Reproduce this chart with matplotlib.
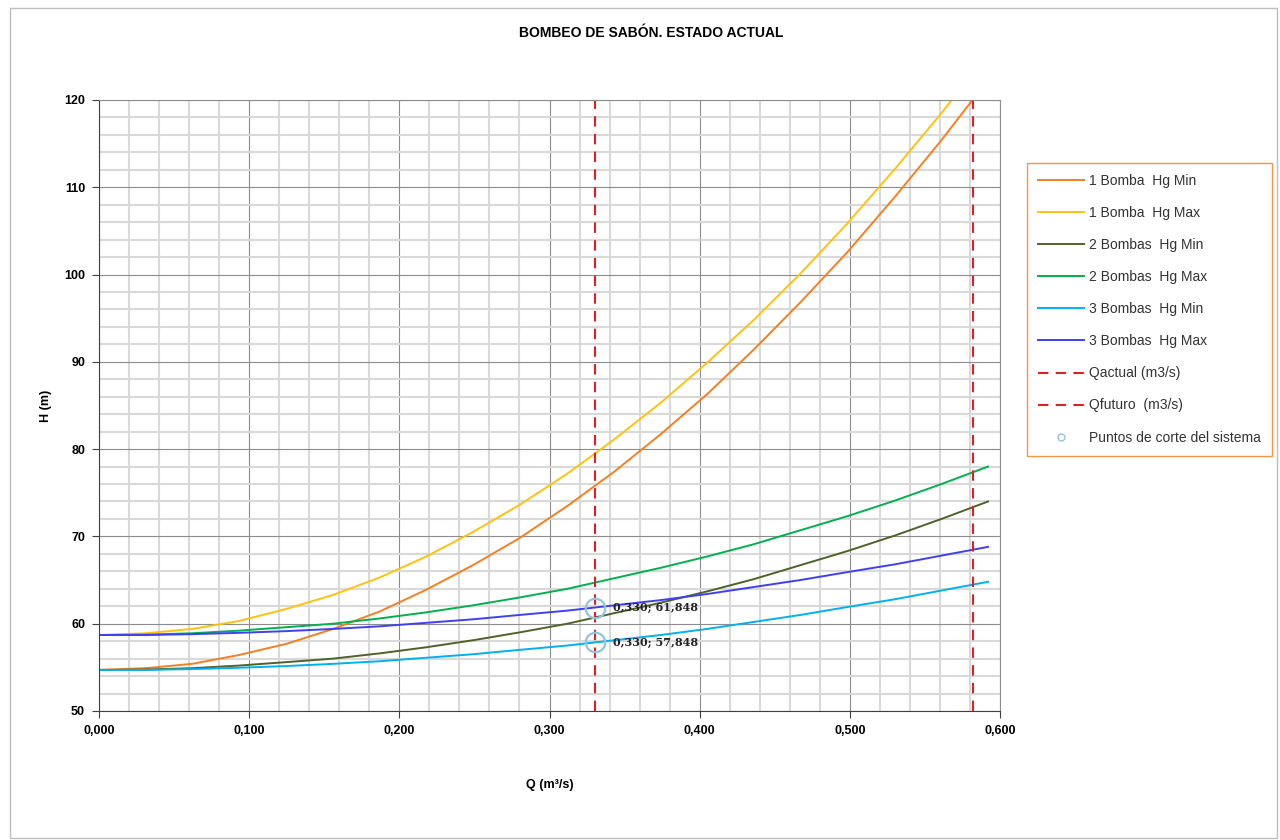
import matplotlib
matplotlib.use("Agg")
import matplotlib.pyplot as plt
from matplotlib.patches import Rectangle
from matplotlib.ticker import MultipleLocator, FuncFormatter

plt.rcParams["font.family"] = ["Liberation Sans", "DejaVu Sans"]

# caudal (m3/s) sampled along the curves
q = [0.000, 0.031, 0.062, 0.093, 0.125, 0.156, 0.187, 0.218, 0.249, 0.280,
     0.312, 0.343, 0.374, 0.405, 0.436, 0.467, 0.498, 0.530, 0.561, 0.592]

h_1b_min = [54.7, 54.9, 55.4, 56.4, 57.7, 59.4, 61.4, 63.9, 66.7, 69.8,
            73.5, 77.4, 81.7, 86.3, 91.4, 96.8, 102.5, 108.9, 115.4, 122.3]
h_1b_max = [58.7, 58.9, 59.4, 60.3, 61.7, 63.3, 65.3, 67.7, 70.5, 73.6,
            77.2, 81.1, 85.3, 89.9, 94.8, 100.1, 105.8, 112.1, 118.5, 125.3]
h_2b_min = [54.7, 54.75, 54.9, 55.2, 55.6, 56.0, 56.6, 57.3, 58.1, 59.0,
            60.0, 61.2, 62.4, 63.7, 65.1, 66.7, 68.3, 70.1, 72.0, 74.0]
h_2b_max = [58.7, 58.75, 58.9, 59.2, 59.6, 60.0, 60.6, 61.3, 62.1, 63.0,
            64.0, 65.2, 66.4, 67.7, 69.1, 70.7, 72.3, 74.1, 76.0, 78.0]
h_3b_min = [54.7, 54.7, 54.8, 54.95, 55.15, 55.4, 55.7, 56.1, 56.5, 57.0,
            57.5, 58.1, 58.7, 59.4, 60.2, 61.0, 61.9, 62.8, 63.8, 64.8]
h_3b_max = [58.7, 58.7, 58.8, 58.95, 59.15, 59.4, 59.7, 60.1, 60.5, 61.0,
            61.5, 62.1, 62.7, 63.4, 64.2, 65.0, 65.9, 66.8, 67.8, 68.8]

q_actual = 0.330
q_futuro = 0.582
cut_q = [0.330, 0.330]
cut_h = [61.848, 57.848]

series = [
    ("1 Bomba  Hg Min", h_1b_min, "#F57F21"),
    ("1 Bomba  Hg Max", h_1b_max, "#FFC20E"),
    ("2 Bombas  Hg Min", h_2b_min, "#4F6228"),
    ("2 Bombas  Hg Max", h_2b_max, "#00B050"),
    ("3 Bombas  Hg Min", h_3b_min, "#00B0F0"),
    ("3 Bombas  Hg Max", h_3b_max, "#3F3FF5"),
]

fig = plt.figure(figsize=(12.8, 8.4), dpi=100)
fig.patches.append(Rectangle((0.008, 0.002), 0.99, 0.988, transform=fig.transFigure,
                             fill=False, edgecolor="#BFBFBF", linewidth=1))
ax = fig.add_axes([0.0773, 0.1536, 0.7040, 0.7274])

for label, h, color in series:
    ax.plot(q, h, color=color, lw=1.4, label=label)

ax.axvline(q_actual, color="#E01E26", lw=1.5, ls=(0, (5, 3.5)), label="Qactual (m3/s)")
ax.axvline(q_futuro, color="#E01E26", lw=1.5, ls=(0, (5, 3.5)), label="Qfuturo  (m3/s)")
ax.plot(cut_q, cut_h, "o", mfc="none", mec="#93C5DA", ms=14, mew=1.6, ls="none")
ax.plot([], [], "o", mfc="none", mec="#93C5DA", ms=5, mew=1, ls="none",
        label="Puntos de corte del sistema")
for xq, yh in zip(cut_q, cut_h):
    ax.annotate(f"{xq:.3f}; {yh:.3f}".replace(".", ","), (xq, yh), xytext=(13, 0),
                textcoords="offset points", va="center", fontsize=8,
                fontweight="bold", family="DejaVu Serif", color="#222222")

ax.set_xlim(0, 0.6)
ax.set_ylim(50, 120)
ax.xaxis.set_major_locator(MultipleLocator(0.1))
ax.xaxis.set_minor_locator(MultipleLocator(0.02))
ax.yaxis.set_major_locator(MultipleLocator(10))
ax.yaxis.set_minor_locator(MultipleLocator(2))
ax.xaxis.set_major_formatter(FuncFormatter(lambda v, p: f"{v:.3f}".replace(".", ",")))
ax.grid(which="minor", color="#D9D9D9", lw=1.5)
ax.grid(which="major", color="#8C8C8C", lw=0.8)
ax.set_axisbelow(True)
ax.tick_params(which="minor", length=0)
ax.tick_params(which="major", direction="out", length=5, color="#404040",
               labelsize=9, pad=5)
for lab in ax.get_xticklabels() + ax.get_yticklabels():
    lab.set_fontweight("bold")
for side in ("left", "bottom"):
    ax.spines[side].set_color("#404040")
for side in ("top", "right"):
    ax.spines[side].set_color("#8C8C8C")

ax.set_xlabel("Q (m³/s)", fontsize=9, fontweight="bold", labelpad=30)
ax.set_ylabel("H (m)", fontsize=9, fontweight="bold", labelpad=9)
fig.text(0.509, 0.961, "BOMBEO DE SABÓN. ESTADO ACTUAL", ha="center", va="center",
         fontsize=10, fontweight="bold")

leg = fig.legend(loc="upper left", bbox_to_anchor=(0.8023, 0.806), borderaxespad=0,
                 fontsize=10, handlelength=3.3, handletextpad=0.4,
                 labelspacing=1.3, borderpad=0.8,
                 fancybox=False, framealpha=1, edgecolor="#F79646")
leg.get_frame().set_linewidth(1)
for txt in leg.get_texts():
    txt.set_color("#333333")

fig.savefig("out.png", dpi=100)
